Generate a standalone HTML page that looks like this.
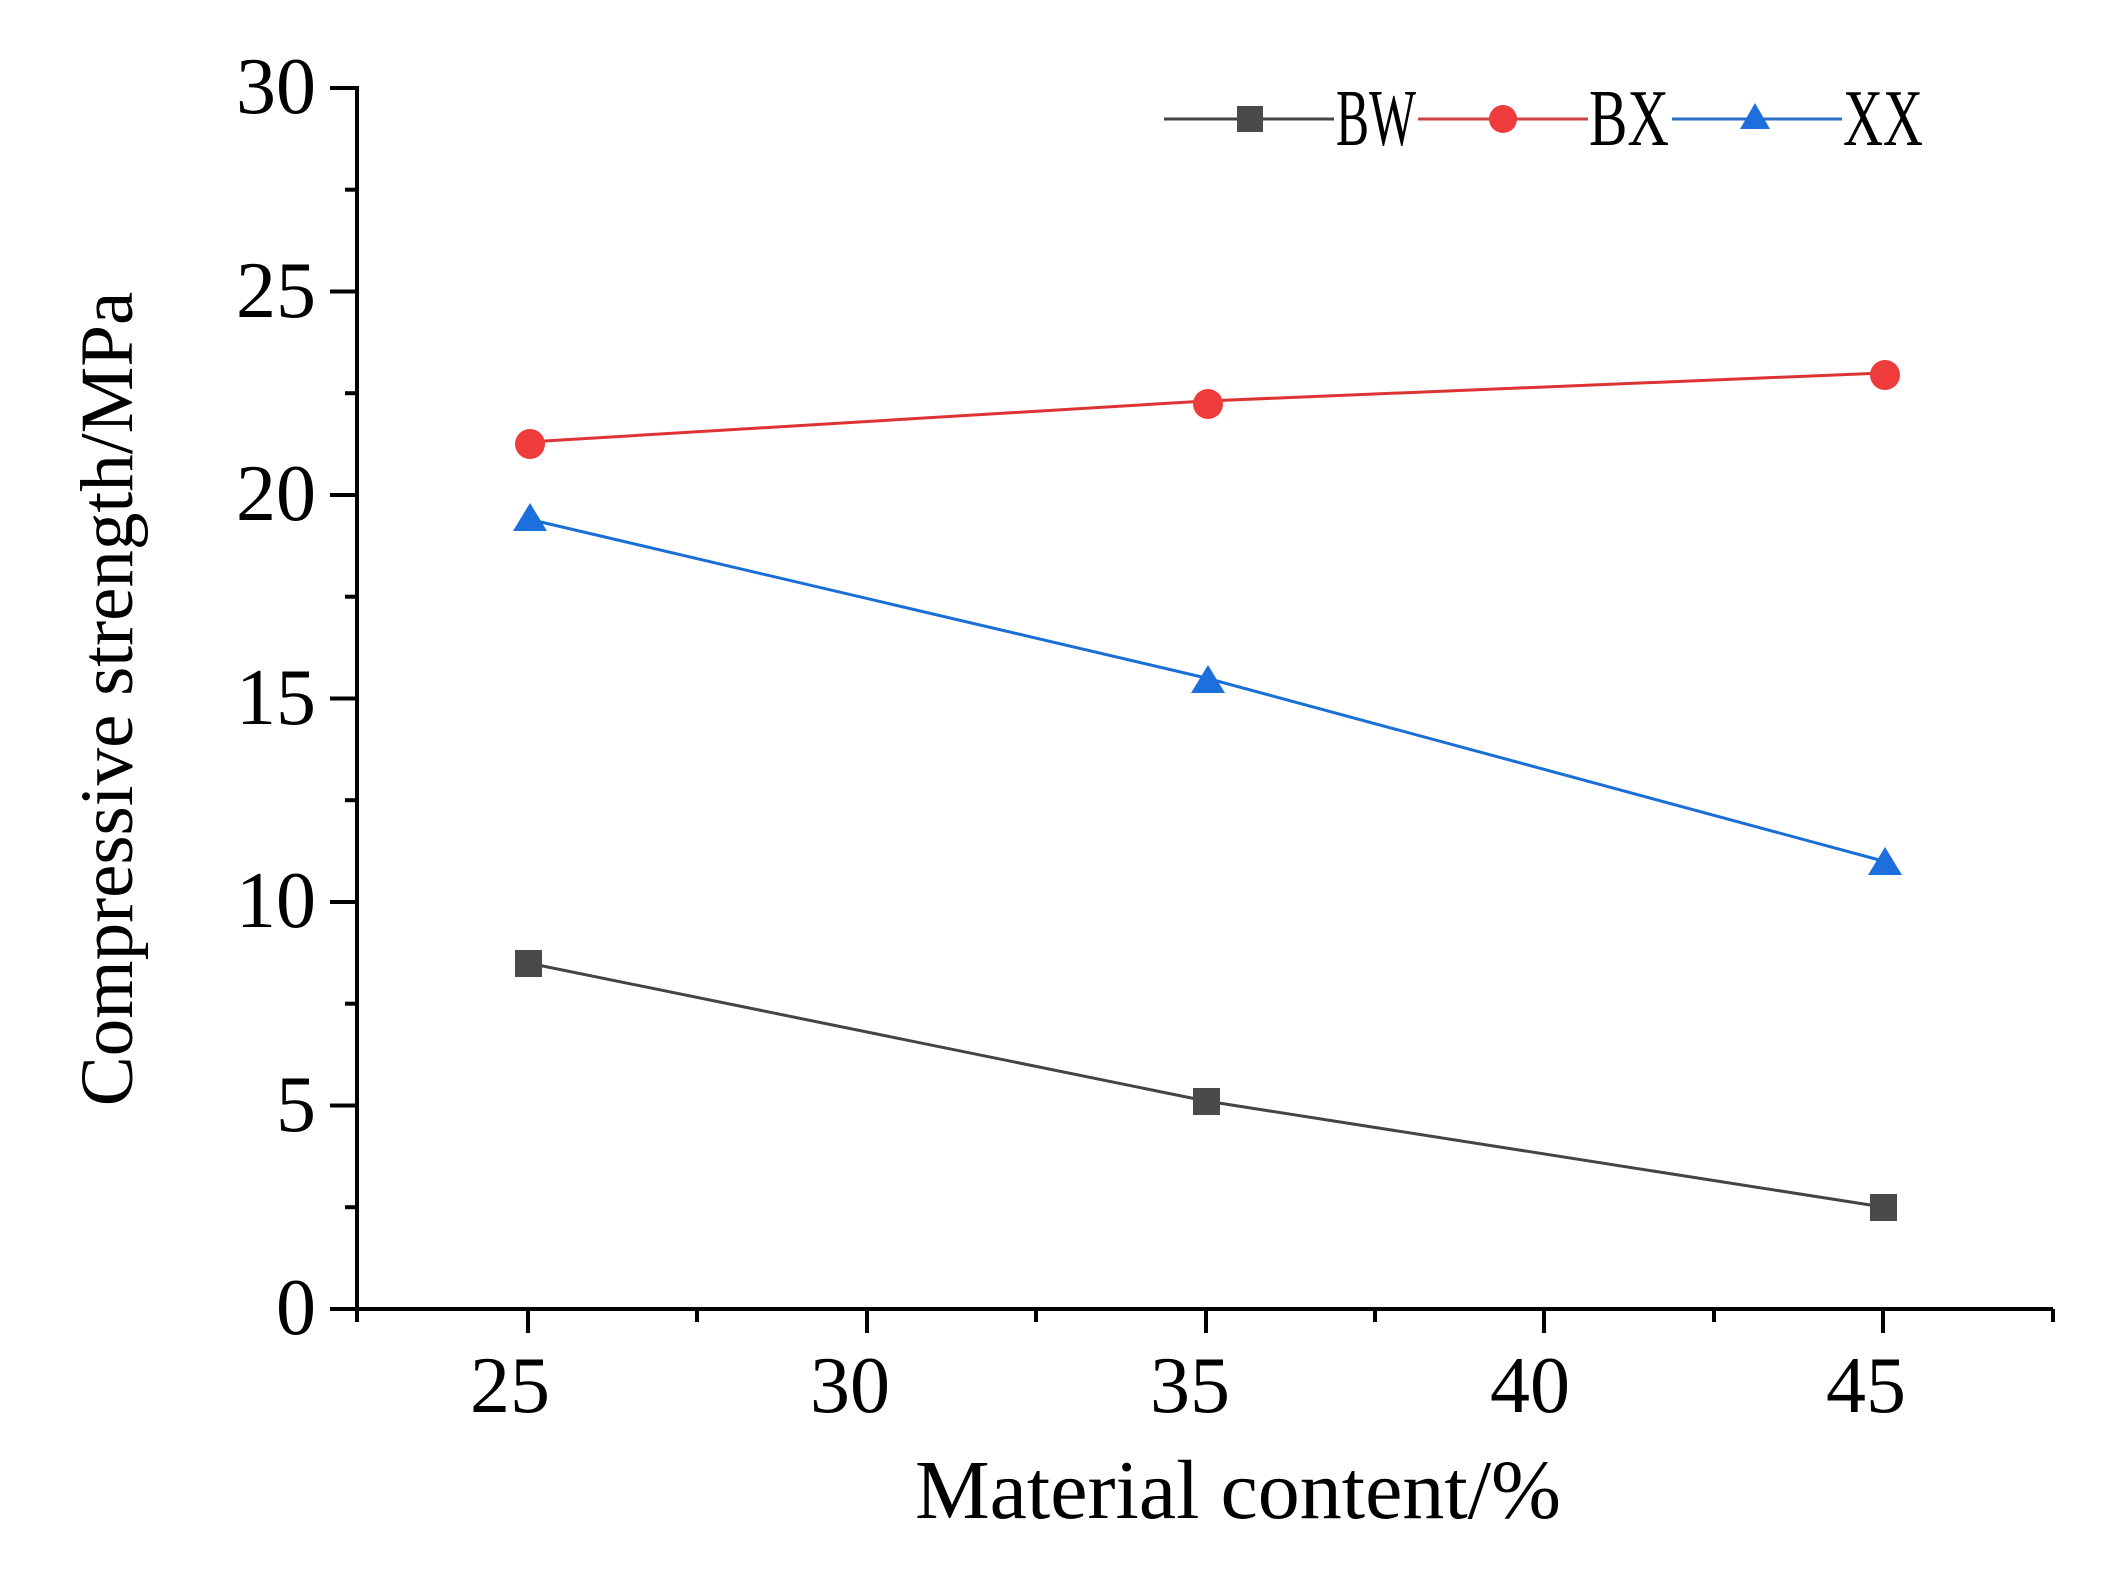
<!DOCTYPE html>
<html><head><meta charset="utf-8"><style>body{margin:0;background:#fff}svg{display:block}</style></head>
<body>
<svg width="2107" height="1593" viewBox="0 0 2107 1593" xmlns="http://www.w3.org/2000/svg" font-family="'Liberation Serif', serif">
<rect width="2107" height="1593" fill="#fff"/>
<g stroke="#000" stroke-width="4" fill="none">
<line x1="357" y1="86" x2="357" y2="1311"/>
<line x1="355" y1="1309" x2="2053" y2="1309"/>
<line x1="330" y1="88" x2="357" y2="88"/>
<line x1="330" y1="291.5" x2="357" y2="291.5"/>
<line x1="330" y1="495" x2="357" y2="495"/>
<line x1="330" y1="698.5" x2="357" y2="698.5"/>
<line x1="330" y1="902" x2="357" y2="902"/>
<line x1="330" y1="1105.5" x2="357" y2="1105.5"/>
<line x1="330" y1="1309" x2="357" y2="1309"/>
<line x1="345" y1="189.7" x2="357" y2="189.7"/>
<line x1="345" y1="393.2" x2="357" y2="393.2"/>
<line x1="345" y1="596.7" x2="357" y2="596.7"/>
<line x1="345" y1="800.2" x2="357" y2="800.2"/>
<line x1="345" y1="1003.7" x2="357" y2="1003.7"/>
<line x1="345" y1="1207.2" x2="357" y2="1207.2"/>
<line x1="528" y1="1309" x2="528" y2="1333"/>
<line x1="867" y1="1309" x2="867" y2="1333"/>
<line x1="1206" y1="1309" x2="1206" y2="1333"/>
<line x1="1544" y1="1309" x2="1544" y2="1333"/>
<line x1="1883" y1="1309" x2="1883" y2="1333"/>
<line x1="357" y1="1309" x2="357" y2="1322"/>
<line x1="697" y1="1309" x2="697" y2="1322"/>
<line x1="1036" y1="1309" x2="1036" y2="1322"/>
<line x1="1375" y1="1309" x2="1375" y2="1322"/>
<line x1="1714" y1="1309" x2="1714" y2="1322"/>
<line x1="2053" y1="1309" x2="2053" y2="1322"/>
</g>
<g font-size="80" fill="#000" text-anchor="end">
<text x="316" y="113">30</text>
<text x="316" y="317">25</text>
<text x="316" y="520">20</text>
<text x="316" y="724">15</text>
<text x="316" y="927">10</text>
<text x="316" y="1131">5</text>
<text x="316" y="1334">0</text>
</g>
<g font-size="80" fill="#000" text-anchor="middle">
<text x="510" y="1412">25</text>
<text x="850" y="1412">30</text>
<text x="1190" y="1412">35</text>
<text x="1530" y="1412">40</text>
<text x="1866" y="1412">45</text>
<text x="1238" y="1518" font-size="84">Material content/%</text>
<text transform="translate(132,699) rotate(-90)" font-size="75">Compressive strength/MPa</text>
</g>
<polyline points="528,963 1206,1101 1883,1207" stroke="#444" stroke-width="3" fill="none"/>
<polyline points="528,442 1206,401 1883,373" stroke="#d33" stroke-width="3" fill="none"/>
<polyline points="528,519 1206,678 1883,861" stroke="#1a6fd6" stroke-width="3" fill="none"/>
<g fill="#4a4a4a">
<rect x="515" y="950" width="27" height="27"/><rect x="1193" y="1088" width="27" height="27"/><rect x="1870" y="1194" width="27" height="27"/>
</g>
<g fill="#ee3b3b">
<circle cx="530" cy="444" r="15"/><circle cx="1208" cy="404" r="15"/><circle cx="1885" cy="375" r="15"/>
</g>
<g fill="#1c6fdc">
<polygon points="530,503 547,531 513,531"/><polygon points="1208,665 1225,693 1191,693"/><polygon points="1885,847 1902,875 1868,875"/>
</g>
<line x1="1164" y1="119" x2="1334" y2="119" stroke="#444" stroke-width="3"/>
<rect x="1237" y="106" width="26" height="26" fill="#4a4a4a"/>
<line x1="1418" y1="119" x2="1588" y2="119" stroke="#c44" stroke-width="3"/>
<circle cx="1503" cy="119" r="14" fill="#ee3b3b"/>
<line x1="1672" y1="119" x2="1842" y2="119" stroke="#2a6fc6" stroke-width="3"/>
<polygon points="1755,103 1770,129 1740,129" fill="#1c6fdc"/>
<g font-size="80" fill="#000">
<text x="1336" y="145" textLength="80" lengthAdjust="spacingAndGlyphs">BW</text>
<text x="1589" y="145" textLength="80" lengthAdjust="spacingAndGlyphs">BX</text>
<text x="1843" y="145" textLength="80" lengthAdjust="spacingAndGlyphs">XX</text>
</g>
</svg>
</body></html>
